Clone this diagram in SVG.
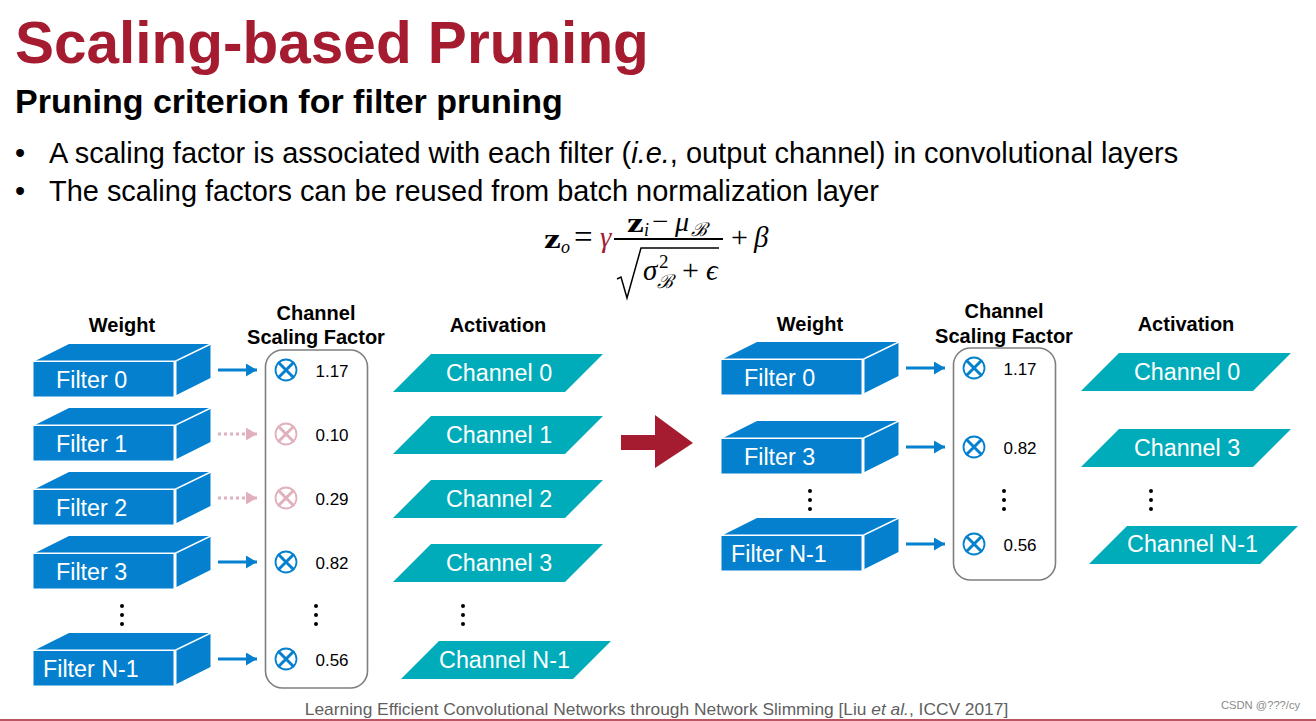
<svg xmlns="http://www.w3.org/2000/svg" width="1316" height="721" viewBox="0 0 1316 721">
<style>
text{font-family:"Liberation Sans",Arial,sans-serif}
.title{font-size:58.500px;font-weight:700;fill:#a51c30}
.sub{font-size:34px;font-weight:700;fill:#000}
.body{font-size:28.950px;fill:#000}
.head{font-size:20px;font-weight:700;fill:#000;text-anchor:middle}
.fl{font-size:23.300px;fill:#fff}
.ch{font-size:23.300px;fill:#fff;text-anchor:middle}
.val{font-size:17px;fill:#000;text-anchor:middle}
.cuboid{fill:#0480cf}
.par{fill:#00acb9}
.box{fill:none;stroke:#7f7f7f;stroke-width:1.6}
.on-l{stroke:#0480cf;stroke-width:3}
.off-l{stroke:#e0b0bc;stroke-width:3;stroke-dasharray:3 3}
.m{font-family:"Liberation Serif","DejaVu Serif",serif;fill:#000}
.dots{fill:#000}
</style>
<defs>
<marker id="a-on" markerUnits="userSpaceOnUse" markerWidth="12" markerHeight="14" refX="11" refY="6.5" orient="auto"><path d="M0 0L11 6.500L0 13Z" fill="#0480cf"/></marker>
<marker id="a-off" markerUnits="userSpaceOnUse" markerWidth="12" markerHeight="14" refX="11" refY="6.5" orient="auto"><path d="M0 0L11 6.500L0 13Z" fill="#e0b0bc"/></marker>
<g id="cub"><path class="cuboid" d="M36 360.500L69 344H209L175 360.500ZM33.500 362H173.500V396.500H33.500ZM176.500 361.500L210.500 345V378L176.500 395Z"/></g>
<g id="xc"><circle cx="0" cy="0" r="10.500" fill="none" stroke-width="1.800"/><path d="M-8 -8L8 8M8 -8L-8 8" stroke-width="3"/></g>
<g id="d3"><circle cx="0" cy="-9" r="2"/><circle cx="0" cy="0" r="2"/><circle cx="0" cy="9" r="2"/></g>
</defs>
<rect width="1316" height="721" fill="#fff"/>

<text class="title" x="15" y="63">Scaling-based Pruning</text>
<text class="sub" x="15" y="113">Pruning criterion for filter pruning</text>
<text class="body" x="15" y="163">•</text>
<text class="body" x="49" y="163">A scaling factor is associated with each filter (<tspan font-style="italic">i.e.</tspan>, output channel) in convolutional layers</text>
<text class="body" x="15" y="201">•</text>
<text class="body" x="49" y="201">The scaling factors can be reused from batch normalization layer</text>

<g id="formula">
<text class="m" transform="translate(544 248) scale(1.350 1)" font-size="28" font-weight="700">z</text>
<text class="m" x="561" y="253" font-size="18" font-style="italic">o</text>
<text class="m" x="574" y="248" font-size="33">=</text>
<text class="m" x="600" y="247" font-size="29" font-style="italic" style="fill:#a51c30">γ</text>
<text class="m" transform="translate(627 232) scale(1.350 1)" font-size="28" font-weight="700">z</text>
<text class="m" x="644" y="236" font-size="18" font-style="italic">i</text>
<text class="m" x="652" y="231" font-size="29">−</text>
<text class="m" x="675" y="231" font-size="28" font-style="italic">μ</text>
<text class="m" x="691" y="236" font-size="19" font-style="italic">ℬ</text>
<path d="M614 239H723" stroke="#000" stroke-width="2" fill="none"/>
<path d="M617 279L621 277L627 298L641 248H719" stroke="#000" stroke-width="1.500" fill="none"/>
<text class="m" x="643" y="280" font-size="29" font-style="italic">σ</text>
<text class="m" x="659" y="268" font-size="19">2</text>
<text class="m" x="657" y="288" font-size="19" font-style="italic">ℬ</text>
<text class="m" x="682" y="280" font-size="30">+</text>
<text class="m" x="706" y="280" font-size="29" font-style="italic">ϵ</text>
<text class="m" x="731" y="247" font-size="30">+</text>
<text class="m" x="754" y="247" font-size="29" font-style="italic">β</text>
</g>

<text class="head" x="122" y="332">Weight</text>
<text class="head" x="316" y="320">Channel</text>
<text class="head" x="316" y="344">Scaling Factor</text>
<text class="head" x="498" y="332">Activation</text>
<text class="head" x="810" y="331">Weight</text>
<text class="head" x="1004" y="318">Channel</text>
<text class="head" x="1004" y="343">Scaling Factor</text>
<text class="head" x="1186" y="331">Activation</text>

<g id="filter-0"><use href="#cub"/><text class="fl" x="56" y="388">Filter 0</text></g>
<g id="filter-1"><use href="#cub" y="64"/><text class="fl" x="56" y="452">Filter 1</text></g>
<g id="filter-2"><use href="#cub" y="128"/><text class="fl" x="56" y="516">Filter 2</text></g>
<g id="filter-3"><use href="#cub" y="192"/><text class="fl" x="56" y="580">Filter 3</text></g>
<g id="filter-n1"><use href="#cub" y="289"/><text class="fl" x="43" y="677">Filter N-1</text></g>
<g id="r-filter-0"><use href="#cub" x="688" y="-2"/><text class="fl" x="744" y="386">Filter 0</text></g>
<g id="r-filter-3"><use href="#cub" x="688" y="77"/><text class="fl" x="744" y="465">Filter 3</text></g>
<g id="r-filter-n1"><use href="#cub" x="688" y="174"/><text class="fl" x="731" y="562">Filter N-1</text></g>

<g id="scale-box"><rect class="box" x="265.500" y="350" width="102" height="338" rx="17"/></g>
<g id="r-scale-box"><rect class="box" x="953.500" y="348" width="102" height="232" rx="17"/></g>

<g id="connectors">
<path class="on-l" d="M218 370H257" marker-end="url(#a-on)"/>
<path class="off-l" d="M218 434H257" marker-end="url(#a-off)"/>
<path class="off-l" d="M218 498H257" marker-end="url(#a-off)"/>
<path class="on-l" d="M218 562H257" marker-end="url(#a-on)"/>
<path class="on-l" d="M218 659H257" marker-end="url(#a-on)"/>
<path class="on-l" d="M906 368H945" marker-end="url(#a-on)"/>
<path class="on-l" d="M906 447H945" marker-end="url(#a-on)"/>
<path class="on-l" d="M906 544H945" marker-end="url(#a-on)"/>
</g>

<g id="factor-0"><use href="#xc" x="286" y="370" style="stroke:#0480cf"/><text class="val" x="332" y="377">1.17</text></g>
<g id="factor-1"><use href="#xc" x="286" y="434" style="stroke:#e0b0bc"/><text class="val" x="332" y="441">0.10</text></g>
<g id="factor-2"><use href="#xc" x="286" y="498" style="stroke:#e0b0bc"/><text class="val" x="332" y="505">0.29</text></g>
<g id="factor-3"><use href="#xc" x="286" y="562" style="stroke:#0480cf"/><text class="val" x="332" y="569">0.82</text></g>
<g id="factor-n1"><use href="#xc" x="286" y="659" style="stroke:#0480cf"/><text class="val" x="332" y="666">0.56</text></g>
<g id="r-factor-0"><use href="#xc" x="974" y="368" style="stroke:#0480cf"/><text class="val" x="1020" y="375">1.17</text></g>
<g id="r-factor-3"><use href="#xc" x="974" y="447" style="stroke:#0480cf"/><text class="val" x="1020" y="454">0.82</text></g>
<g id="r-factor-n1"><use href="#xc" x="974" y="544" style="stroke:#0480cf"/><text class="val" x="1020" y="551">0.56</text></g>

<g id="channel-0"><path class="par" d="M393 392L431 354H603L565 392Z"/><text class="ch" x="499" y="381">Channel 0</text></g>
<g id="channel-1"><path class="par" d="M393 454L431 416H603L565 454Z"/><text class="ch" x="499" y="443">Channel 1</text></g>
<g id="channel-2"><path class="par" d="M393 518L431 480H603L565 518Z"/><text class="ch" x="499" y="507">Channel 2</text></g>
<g id="channel-3"><path class="par" d="M393 582L431 544H603L565 582Z"/><text class="ch" x="499" y="571">Channel 3</text></g>
<g id="channel-n1"><path class="par" d="M401 679L439 641H611L573 679Z"/><text class="ch" x="504.500" y="668">Channel N-1</text></g>
<g id="r-channel-0"><path class="par" d="M1081 391L1119 353H1291L1253 391Z"/><text class="ch" x="1187" y="380">Channel 0</text></g>
<g id="r-channel-3"><path class="par" d="M1081 467L1119 429H1291L1253 467Z"/><text class="ch" x="1187" y="456">Channel 3</text></g>
<g id="r-channel-n1"><path class="par" d="M1089 564L1127 526H1298L1260 564Z"/><text class="ch" x="1192.500" y="552">Channel N-1</text></g>

<g class="dots">
<use href="#d3" x="122" y="615"/>
<use href="#d3" x="316" y="615"/>
<use href="#d3" x="463" y="615"/>
<use href="#d3" x="810" y="500"/>
<use href="#d3" x="1004" y="500"/>
<use href="#d3" x="1151" y="500"/>
</g>

<path id="big-arrow" d="M621 435H655V415L693 443L655 468V450H621Z" fill="#a51c30"/>

<text x="656.500" y="715" font-size="17.350" fill="#5f5f5f" text-anchor="middle">Learning Efficient Convolutional Networks through Network Slimming [Liu <tspan font-style="italic">et al.</tspan>, ICCV 2017]</text>
<text x="1221" y="709" font-size="11.200" fill="#8a8a8a">CSDN @???/cy</text>
<path d="M0 720H1316" stroke="#a51c30" stroke-width="1.500"/>
</svg>
